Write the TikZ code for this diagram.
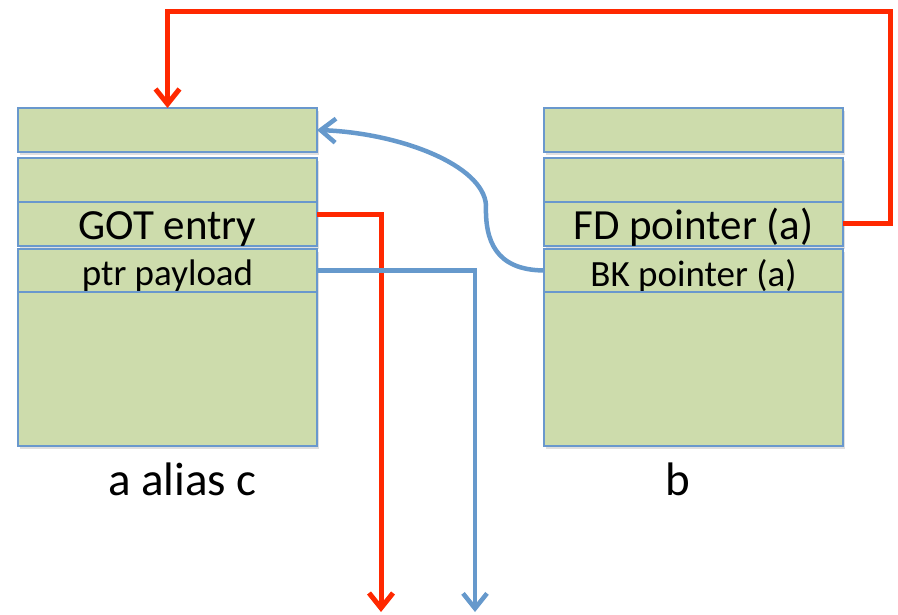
\documentclass[tikz,border=0pt]{standalone}
\usepackage{fontspec}
\setmainfont{Carlito}
\usetikzlibrary{arrows.meta,shadows}
\definecolor{cellfill}{RGB}{205,220,172}
\definecolor{cellline}{RGB}{105,152,205}
\definecolor{redline}{RGB}{255,40,0}
\definecolor{blueline}{RGB}{102,153,204}
\tikzset{
  cell/.style={draw=cellline, fill=cellfill, line width=1.6pt, minimum width=299pt, inner sep=0pt, outer sep=0pt,
    drop shadow={opacity=0.25, shadow xshift=2pt, shadow yshift=-3pt}},
  bigtxt/.style={font=\fontsize{43}{46}\selectfont, text height=32pt, text depth=0pt},
  smalltxt/.style={font=\fontsize{37}{40}\selectfont},
  labeltxt/.style={font=\fontsize{47}{50}\selectfont, anchor=base},
  redarrow/.style={draw=redline, line width=5pt, line join=miter, -{Straight Barb[length=15pt, width=24pt, line width=5pt]}},
  bluearrow/.style={draw=blueline, line width=4.5pt, line join=miter, -{Straight Barb[length=15pt, width=24pt, line width=4.5pt]}}
}
\begin{document}
\begin{tikzpicture}[x=1pt, y=-1pt]
\useasboundingbox (0,0) rectangle (898,615);
% left column
\node[cell, minimum height=44pt] (a1) at (167.5,130) {};
\node[cell, minimum height=44pt] (a2) at (167.5,180) {};
\node[cell, minimum height=44pt, bigtxt] (a3) at (167.5,224) {GOT entry};
\node[cell, minimum height=43pt, smalltxt, text height=29pt, text depth=0pt] (a4) at (167.5,270.5) {ptr payload};
\node[cell, minimum height=154pt] (a5) at (167.5,369) {};
% right column
\node[cell, minimum height=44pt] (b1) at (693.5,130) {};
\node[cell, minimum height=44pt] (b2) at (693.5,180) {};
\node[cell, minimum height=44pt, bigtxt] (b3) at (693.5,224) {FD pointer (a)};
\node[cell, minimum height=43pt, smalltxt, text height=33pt, text depth=0pt] (b4) at (693.5,270.5) {BK pointer (a)};
\node[cell, minimum height=154pt] (b5) at (693.5,369) {};
% labels
\node[labeltxt] (la) at (182.5,495) {a alias c};
\node[labeltxt] (lb) at (677.5,495) {b};
% free ends
\coordinate (redend) at (381,612);
\coordinate (blueend) at (475,612);
% connectors
\draw[redarrow] (b3.east) -- (890,224) -- (890,12) -- (a1.north |- 0,12) -- (a1.north);
\draw[redarrow] ([yshift=9pt]a3.east) -- (381,215) -- (redend);
\draw[bluearrow] (a4.east) -- (475,270.5) -- (blueend);
\draw[bluearrow] (b4.west) .. controls (495,270) and (485,240) .. (486,205)
   .. controls (483,165) and (400,133) .. (a1.east);
\end{tikzpicture}
\end{document}
